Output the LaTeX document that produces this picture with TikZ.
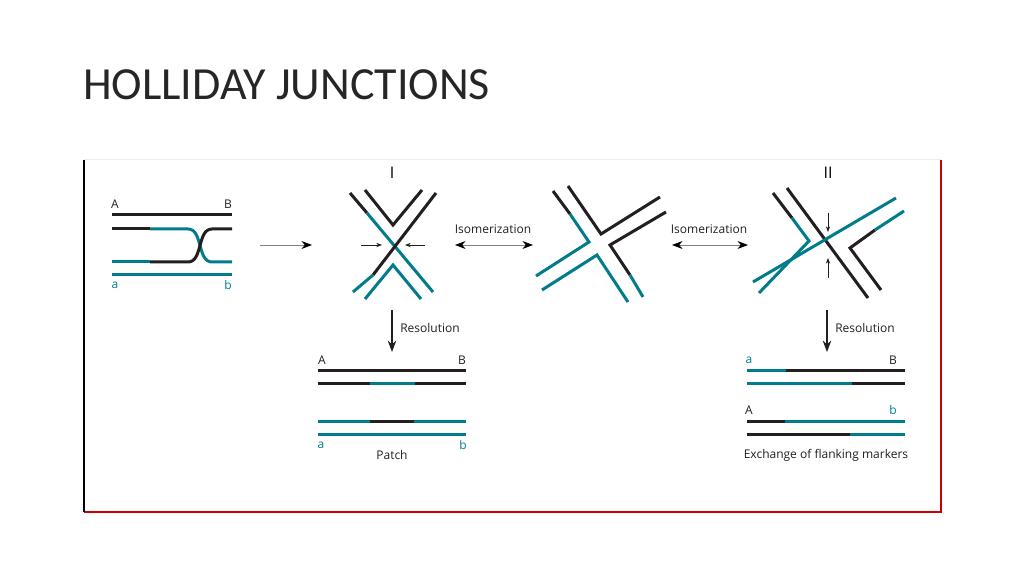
\documentclass[tikz,border=0pt]{standalone}
\usepackage{fontspec}
\setmainfont{Open Sans}
\newfontfamily\titlefont{Carlito}
\usetikzlibrary{arrows.meta}
\definecolor{dnateal}{RGB}{0,124,138}
\definecolor{dnablack}{RGB}{35,31,32}
\tikzset{>={Stealth[scale=1]},
  bk/.style={dnablack, line width=1.5pt},
  tl/.style={dnateal, line width=1.5pt},
  lbl/.style={font=\fontsize{6}{7}\selectfont, text=dnablack},
  tlbl/.style={font=\fontsize{6}{7}\selectfont, text=dnateal},
  thin arrow/.style={->, gray, line width=0.4pt, >={Stealth[scale=1.1,black]}},
  tiny arrow/.style={->, dnablack, line width=0.4pt, >={Stealth[scale=0.6]}}}

\begin{document}
\begin{tikzpicture}[x=0.5pt, y=-0.5pt]
      \useasboundingbox (0,0) rectangle (1024,576);
      \node[anchor=west, font=\titlefont\fontsize{23}{26}\selectfont, text=black!85] (title) at (76,85) {HOLLIDAY JUNCTIONS};
      % frame
      \draw[gray!15, line width=0.5pt] (84,160) -- (941,160);
      \draw[red!80!black, line width=1pt] (941,160) -- (941,512) -- (84,512);
      \draw[black, line width=1.2pt] (84,160) -- (84,512);
      % duplex with crossover
      \draw[bk] (112,215) -- (232,215);
      \draw[bk] (112,229) -- (150,229);
      \draw[tl] (150,229) -- (188,229) .. controls (203,229) and (197,262) .. (212,262) -- (232,262);
      \draw[tl] (112,262) -- (150,262);
      \draw[bk] (150,262) -- (188,262) .. controls (203,262) and (197,229) .. (212,229) -- (232,229);
      \draw[tl] (112,275) -- (232,275);
      \node[lbl] (dA) at (115,204) {A};
      \node[lbl] (dB) at (228,204) {B};
      \node[tlbl] (da) at (115,285) {a};
      \node[tlbl] (db) at (228,285) {b};
      \coordinate (s0) at (260,245);
      \coordinate (s1) at (312,245);
      \draw[thin arrow] (s0) -- (s1);
      % junction I
      \node[font=\fontsize{8}{9}\selectfont\rmfamily] (labI) at (392,173) {I};
      \draw[bk] (350,193) -- (367,213);
      \draw[tl] (367,213) -- (433,292);
      \draw[bk] (436,193) -- (373,275);
      \draw[tl] (373,275) -- (353,292);
      \draw[bk] (365,190) -- (393,225) -- (422,190);
      \draw[tl] (365,299) -- (393,265) -- (421,299);
      \draw[tiny arrow] (361,245) -- (382,245);
      \draw[tiny arrow] (425,245) -- (405,245);
      % isomerization 1
      \node[lbl] (iso1) at (493,229) {Isomerization};
      \coordinate (i1a) at (455,245);
      \coordinate (i1b) at (533,245);
      \draw[thin arrow, <->] (i1a) -- (i1b);
      % open junction
      \draw[bk] (553,191) -- (570,214);
      \draw[tl] (570,214) -- (589,242) -- (536,276);
      \draw[bk] (568,186) -- (601,234) -- (660,197);
      \draw[bk] (666,212) -- (610,245) -- (630,275);
      \draw[tl] (630,275) -- (643,297);
      \draw[tl] (542,290) -- (597,255) -- (628,302);
      % isomerization 2
      \node[lbl] (iso2) at (709,229) {Isomerization};
      \coordinate (i2a) at (672,245);
      \coordinate (i2b) at (748,245);
      \draw[thin arrow, <->] (i2a) -- (i2b);
      % junction II
      \node[font=\fontsize{8}{9}\selectfont\rmfamily] (labII) at (828,173) {II};
      \draw[bk] (773,193) -- (792,218);
      \draw[tl] (792,218) -- (809,241) -- (759,293);
      \draw[bk] (787,188) -- (868,298);
      \draw[tl] (753,282) -- (896,198);
      \draw[tl] (904,211) -- (875,230);
      \draw[bk] (875,230) -- (850,248) -- (881,290);
      \draw[tiny arrow] (828,213) -- (828,232);
      \draw[tiny arrow] (828,278) -- (828,258);
      % resolution I -> patch
      \coordinate (r1a) at (392,310);
      \coordinate (r1b) at (392,352);
      \draw[->, dnablack, line width=0.6pt] (r1a) -- (r1b);
      \node[lbl] (res1) at (430,328) {Resolution};
      \draw[bk] (318,371) -- (466,371);
      \draw[bk] (318,384) -- (370,384);
      \draw[tl] (370,384) -- (415,384);
      \draw[bk] (415,384) -- (466,384);
      \draw[tl] (318,422) -- (370,422);
      \draw[bk] (370,422) -- (414,422);
      \draw[tl] (414,422) -- (466,422);
      \draw[tl] (318,435) -- (466,435);
      \node[lbl] (pA) at (322,360) {A};
      \node[lbl] (pB) at (462,360) {B};
      \node[tlbl] (pa) at (321,445) {a};
      \node[tlbl] (pb) at (463,445) {b};
      \node[lbl] (patch) at (392,455) {Patch};
      % resolution II -> exchange
      \coordinate (r2a) at (827,310);
      \coordinate (r2b) at (827,352);
      \draw[->, dnablack, line width=0.6pt] (r2a) -- (r2b);
      \node[lbl] (res2) at (865,328) {Resolution};
      \draw[tl] (747,371) -- (786,371);
      \draw[bk] (786,371) -- (905,371);
      \draw[tl] (747,384) -- (852,384);
      \draw[bk] (852,384) -- (905,384);
      \draw[bk] (747,422) -- (785,422);
      \draw[tl] (785,422) -- (905,422);
      \draw[bk] (747,435) -- (850,435);
      \draw[tl] (850,435) -- (905,435);
      \node[tlbl] (ea) at (749,360) {a};
      \node[lbl] (eB) at (893,360) {B};
      \node[lbl] (eA) at (749,410) {A};
      \node[tlbl] (eb) at (893,410) {b};
      \node[lbl] (exch) at (826,455) {Exchange of flanking markers};
    \end{tikzpicture}
\end{document}
